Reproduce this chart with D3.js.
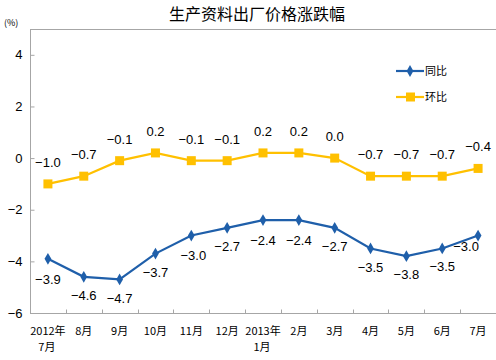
<!DOCTYPE html>
<html><head><meta charset="utf-8">
<script src="https://cdn.jsdelivr.net/npm/d3@7"></script>
<style>body{margin:0;background:#fff}svg{display:block}</style>
</head><body>
<svg id="c" width="496" height="360"></svg>
<script>
const categories = [["2012年","7月"],["8月"],["9月"],["10月"],["11月"],["12月"],["2013年","1月"],["2月"],["3月"],["4月"],["5月"],["6月"],["7月"]];
const yoy = [-3.9,-4.6,-4.7,-3.7,-3.0,-2.7,-2.4,-2.4,-2.7,-3.5,-3.8,-3.5,-3.0];
const mom = [-1.0,-0.7,-0.1,0.2,-0.1,-0.1,0.2,0.2,0.0,-0.7,-0.7,-0.7,-0.4];
const yTicks = [-6,-4,-2,0,2,4];
const seriesNames = ["同比","环比"];
const title = "生产资料出厂价格涨跌幅";
const unit = "(%)";

const svg = d3.select("#c");
const L=30,R=496,T=29,B=313;
const idx = categories.map((d,i)=>i);
const x = d3.scaleBand().domain(idx).range([L,R]);
const y = d3.scaleLinear().domain([-6,5]).range([B,T]);
const cx = i => x(i)+x.bandwidth()/2;
const blue="#1F5FAA", yellow="#FFC000", grey="#A6A6A6";
const font="'Liberation Sans', Arial, sans-serif";
const cjk="'Noto Sans CJK SC', sans-serif";

svg.append("text").attr("x",257).attr("y",20).attr("text-anchor","middle")
  .attr("font-family",cjk).attr("font-size",16).attr("fill","#000").text(title);
svg.append("text").attr("x",4).attr("y",26).attr("font-family",cjk).attr("font-size",9).attr("fill","#000").text(unit);

svg.append("line").attr("x1",L).attr("x2",R).attr("y1",T+0.5).attr("y2",T+0.5).attr("stroke",grey);
const ya = svg.append("g").attr("transform",`translate(${L+0.5},0)`)
  .call(d3.axisRight(y).tickValues(yTicks).tickSize(4).tickFormat(d3.format("d")));
ya.select(".domain").attr("stroke",grey).attr("d",`M0,${T}V${B}`);
ya.selectAll(".tick line").attr("stroke",grey);
ya.selectAll(".tick text").attr("x",-8).attr("text-anchor","end").attr("font-family",font).attr("font-size",13).attr("fill","#000");
const xa = svg.append("g").attr("transform",`translate(0,${B+0.5})`)
  .call(d3.axisBottom(x).tickSize(0).tickFormat(""));
xa.select(".domain").attr("stroke",grey).attr("d",`M${L},0H${R}`);
xa.selectAll(".tick text").remove();
xa.selectAll(".tick line").remove();
xa.selectAll(".btick").data(idx.slice(1)).enter().append("line")
  .attr("x1",i=>Math.round(x(i))+0.5).attr("x2",i=>Math.round(x(i))+0.5).attr("y1",0).attr("y2",-4).attr("stroke",grey);
const xl = svg.append("g");
categories.forEach((c,i)=>{
  const t = xl.append("text").attr("x",cx(i)).attr("y",335).attr("text-anchor","middle")
    .attr("font-family",cjk).attr("font-size",11).attr("fill","#000");
  c.forEach((s,k)=>t.append("tspan").attr("x",cx(i)+(k>0?-1:0)).attr("dy",k?16:0).text(s));
});

const line = d3.line().x((d,i)=>cx(i)).y(d=>y(d));
svg.append("path").datum(mom).attr("d",line).attr("fill","none").attr("stroke",yellow).attr("stroke-width",2.2);
svg.append("path").datum(yoy).attr("d",line).attr("fill","none").attr("stroke",blue).attr("stroke-width",2.2);
svg.selectAll(".sq").data(mom).enter().append("rect")
  .attr("x",(d,i)=>cx(i)-4.5).attr("y",d=>y(d)-4.5).attr("width",9).attr("height",9).attr("fill",yellow);
const dia = d3.symbol().type(d3.symbolDiamond).size(40);
svg.selectAll(".dm").data(yoy).enter().append("path")
  .attr("d",dia).attr("transform",(d,i)=>`translate(${cx(i)},${y(d)})`).attr("fill",blue);

const fmt = d3.format(".1f");
svg.selectAll(".ml").data(mom).enter().append("text")
  .attr("x",(d,i)=>cx(i)).attr("y",d=>y(d)-17).attr("text-anchor","middle")
  .attr("font-family",font).attr("font-size",13).attr("fill","#000").text(d=>fmt(d));
const ydx=[0,0,0,0,2,0,0,0,0,0,0,0,-12];
const ydy=[25,23,24,23,24,23,25,25,23,24,23,23,15];
svg.selectAll(".yl").data(yoy).enter().append("text")
  .attr("x",(d,i)=>cx(i)+ydx[i]).attr("y",(d,i)=>y(d)+ydy[i]).attr("text-anchor","middle")
  .attr("font-family",font).attr("font-size",13).attr("fill","#000").text(d=>fmt(d));

const lg = svg.append("g");
[[blue,"d"],[yellow,"s"]].forEach((c,k)=>{
  const ly = 71+k*26;
  lg.append("line").attr("x1",396).attr("x2",424).attr("y1",ly).attr("y2",ly).attr("stroke",c[0]).attr("stroke-width",2.2);
  if(c[1]==="d") lg.append("path").attr("d",dia).attr("transform",`translate(410,${ly})`).attr("fill",c[0]);
  else lg.append("rect").attr("x",406).attr("y",ly-4.5).attr("width",9).attr("height",9).attr("fill",c[0]);
  lg.append("text").attr("x",425).attr("y",ly+4).attr("font-family",cjk).attr("font-size",11).attr("fill","#000").text(seriesNames[k]);
});
</script>
</body></html>
